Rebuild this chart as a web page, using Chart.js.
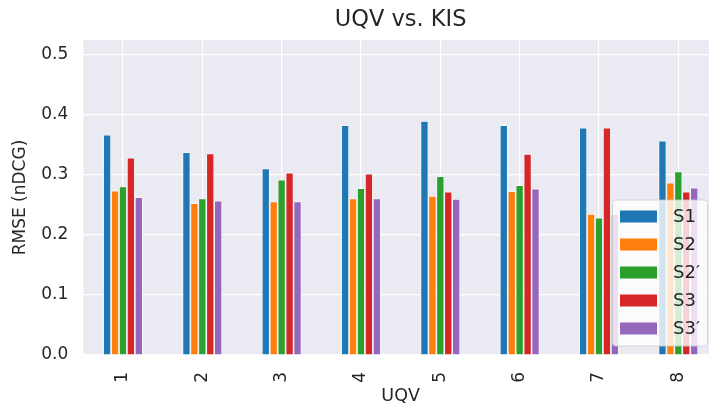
<!DOCTYPE html>
<html>
<head>
<meta charset="utf-8">
<script src="https://cdn.jsdelivr.net/npm/chart.js@4"></script>
<style>
  html, body { margin: 0; padding: 0; background: #fff; overflow: hidden; }
  #wrap { width: 720px; height: 406px; }
</style>
</head>
<body>
<div id="wrap"><canvas id="myChart" width="720" height="406"></canvas></div>
<script>
const categories = ["1", "2", "3", "4", "5", "6", "7", "8"];
const seriesNames = ["S1", "S2", "S2\u2032", "S3", "S3\u2032"];
const s1 = [0.367, 0.338, 0.311, 0.383, 0.390, 0.383, 0.379, 0.357];
const s2 = [0.274, 0.253, 0.256, 0.261, 0.265, 0.273, 0.235, 0.287];
const s2p = [0.281, 0.261, 0.292, 0.278, 0.298, 0.283, 0.229, 0.306];
const s3 = [0.329, 0.336, 0.304, 0.302, 0.272, 0.335, 0.379, 0.272];
const s3p = [0.263, 0.257, 0.256, 0.261, 0.260, 0.277, 0.235, 0.279];
const yTicks = [0.0, 0.1, 0.2, 0.3, 0.4, 0.5];
const colors = ["#1f77b4", "#ff7f0e", "#2ca02c", "#d62728", "#9467bd"];

const textColor = "#262626";
const fontFamily = "'DejaVu Sans', sans-serif";

const allSeries = [s1, s2, s2p, s3, s3p];

// grey plot background, seaborn style
const plotBg = {
  id: "plotBg",
  beforeDraw(chart) {
    const { ctx, chartArea: a } = chart;
    ctx.save();
    ctx.fillStyle = "#eaeaf2";
    ctx.fillRect(a.left, a.top, a.right - a.left, a.bottom - a.top);
    ctx.restore();
  },
};

// title centred over the plot + legend box inside the plot
const overlay = {
  id: "overlay",
  afterDraw(chart) {
    const { ctx, chartArea: a } = chart;
    ctx.save();
    ctx.fillStyle = textColor;
    ctx.font = "22.5px " + fontFamily;
    ctx.textAlign = "center";
    ctx.textBaseline = "middle";
    ctx.fillText("UQV vs. KIS", (a.left + a.right) / 2, 20);

    const bx = 612.5, by = 200, bw = 95, bh = 146;
    ctx.beginPath();
    ctx.roundRect(bx, by, bw, bh, 3);
    ctx.fillStyle = "rgba(255,255,255,0.8)";
    ctx.fill();
    ctx.strokeStyle = "rgba(204,204,204,0.8)";
    ctx.lineWidth = 1;
    ctx.stroke();

    ctx.font = "18px " + fontFamily;
    ctx.textAlign = "left";
    chart.data.datasets.forEach((ds, i) => {
      const cy = 216.5 + i * 28;
      ctx.fillStyle = ds.backgroundColor;
      ctx.fillRect(620, cy - 6, 37, 12);
      ctx.fillStyle = textColor;
      ctx.fillText(ds.label, 673, cy + 1);
    });
    ctx.restore();
  },
};

new Chart(document.getElementById("myChart"), {
  type: "bar",
  data: {
    labels: categories,
    datasets: allSeries.map((vals, i) => ({
      label: seriesNames[i],
      data: vals,
      backgroundColor: colors[i],
      borderColor: "#ffffff",
      borderWidth: 0.8,
      categoryPercentage: 0.5,
      barPercentage: 1.0,
    })),
  },
  options: {
    responsive: false,
    animation: false,
    layout: { padding: { top: 40, right: 2, left: 0, bottom: 0 } },
    plugins: {
      legend: { display: false },
      title: { display: false },
      tooltip: { enabled: false },
    },
    scales: {
      x: {
        grid: { color: "#ffffff", lineWidth: 1.2, offset: false, drawTicks: false },
        border: { display: false },
        ticks: {
          color: textColor,
          font: { family: fontFamily, size: 17 },
          minRotation: 90,
          maxRotation: 90,
          padding: 17,
        },
        title: {
          display: true,
          text: "UQV",
          color: textColor,
          font: { family: fontFamily, size: 17.5, lineHeight: 1.1 },
          padding: { top: 0, bottom: 0 },
        },
        afterFit(scale) { scale.height = 51; },
      },
      y: {
        min: 0,
        max: 0.525,
        grid: { color: "#ffffff", lineWidth: 1.2, drawTicks: false },
        border: { display: false },
        afterBuildTicks(axis) { axis.ticks = yTicks.map(v => ({ value: v })); },
        ticks: {
          color: textColor,
          font: { family: fontFamily, size: 17 },
          padding: 15,
          callback: v => v.toFixed(1),
        },
        title: {
          display: true,
          text: "RMSE (nDCG)",
          color: textColor,
          font: { family: fontFamily, size: 17, lineHeight: 1.1 },
          padding: { top: 11.6, bottom: 0 },
        },
        afterFit(scale) { scale.width = 83.3; },
      },
    },
  },
  plugins: [plotBg, overlay],
});
</script>
</body>
</html>
